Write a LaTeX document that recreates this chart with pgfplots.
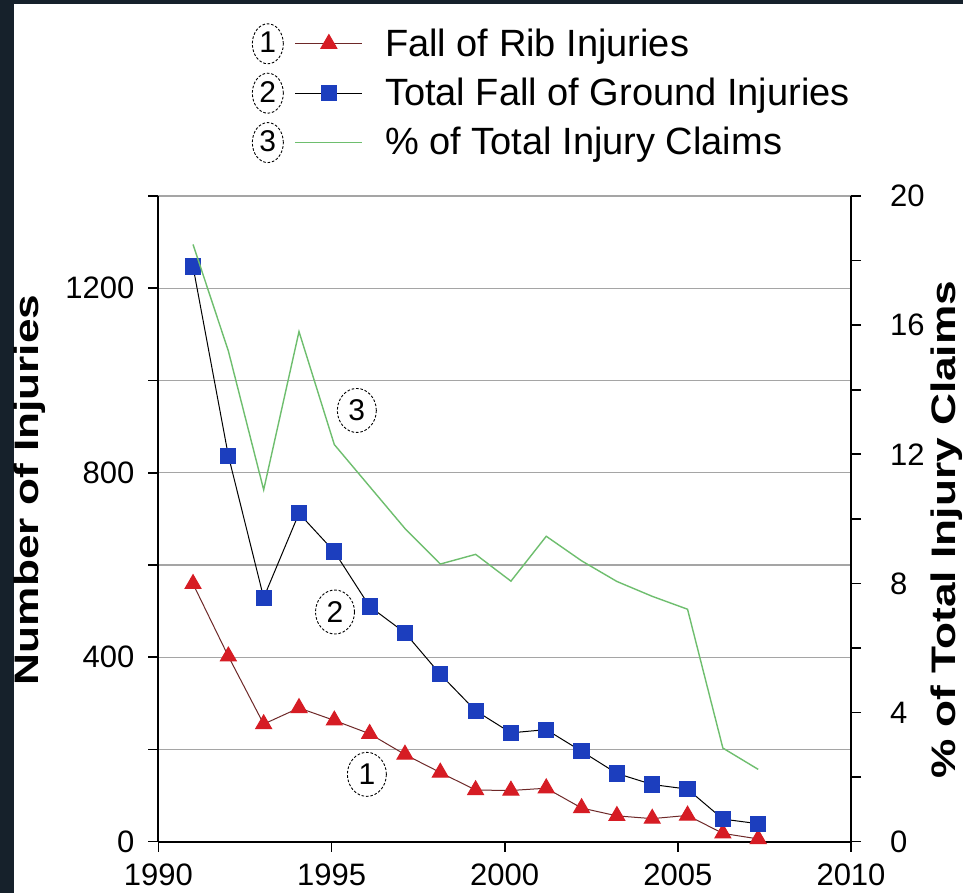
\documentclass[border=0pt]{standalone}
\usepackage{fontspec}
\setmainfont{Liberation Sans}
\usepackage{graphicx}
\usepackage{pgfplots}
\pgfplotsset{compat=1.18}
\usetikzlibrary{shapes.geometric}

\definecolor{bgdark}{HTML}{16212B}
\definecolor{ribred}{RGB}{214,28,36}
\definecolor{riblinered}{RGB}{110,40,40}
\definecolor{fogblue}{RGB}{28,62,190}
\definecolor{pctgreen}{RGB}{110,190,110}
\definecolor{gridgray}{RGB}{165,165,165}

\tikzset{
  numcirc/.style={ellipse, draw=black, text=black, fill=white, line width=0.45pt,
    dash pattern=on 1.3pt off 0.9pt, inner sep=0pt,
    font=\fontsize{15}{15}\selectfont},
}
\pgfplotsset{
  circleg/.style={legend image code/.code={
    \node[numcirc, minimum width=15.5pt, minimum height=20pt] at (-21.75pt,0pt) {#1};
    \draw[mark repeat=2,mark phase=2] plot coordinates {(0pt,0pt) (16.75pt,0pt) (33.5pt,0pt)};
  }},
  every axis/.append style={
    scale only axis, width=346.3pt, height=322.85pt,
    xmin=1990, xmax=2010,
    tick align=outside, major tick length=5pt,
    tick style={black, line width=0.8pt},
    axis line style={black, line width=1pt, -},
    ticklabel style={font=\fontsize{15.5}{18}\selectfont},
    /pgf/number format/.cd, 1000 sep={}, assume math mode=true,
  },
}

\begin{document}
\begin{tikzpicture}
\fill[bgdark] (-79.2pt,-25.65pt) rectangle (402.3pt,420.85pt);
\fill[white] (-72.2pt,-25.65pt) rectangle (402.3pt,418.85pt);

\begin{axis}[
  ymin=0, ymax=1400,
  axis x line*=bottom, axis y line*=left,
  xtick={1990,1995,...,2010},
  ytick={0,200,...,1400},
  yticklabels={0,,400,,800,,1200,},
  xticklabel style={yshift=-2.5pt},
  yticklabel style={xshift=-3.5pt},
  ymajorgrids, major grid style={gridgray, line width=0.7pt},
  ylabel={\scalebox{1.3}[1]{\bfseries Number of Injuries}},
  ylabel style={at={(axis description cs:-0.162,0.545)}, anchor=south,
    inner sep=0pt, font=\fontsize{17}{20}\selectfont},
  legend style={draw=none, fill=none, at={(0.1344,1.268)}, anchor=north west,
    inner sep=0pt, font=\fontsize{19}{22}\selectfont,
    row sep=4.25pt, column sep=11pt, nodes={inner sep=0pt}},
  legend cell align=left,
  clip=false,
]
\addplot[riblinered, line width=0.5pt, mark=triangle*, mark size=4.6pt,
  mark options={solid, draw=ribred, fill=ribred}, circleg=1] coordinates {
  (1991.00,559) (1992.02,402) (1993.04,255) (1994.06,290) (1995.08,263)
  (1996.10,234) (1997.12,189) (1998.14,150) (1999.16,112) (2000.18,111)
  (2001.20,116) (2002.22,73) (2003.24,56) (2004.26,50) (2005.28,57)
  (2006.30,18) (2007.32,6)
};
\addlegendentry{Fall of Rib Injuries}
\addplot[black, line width=0.5pt, mark=square*, mark size=3.8pt,
  mark options={solid, draw=fogblue, fill=fogblue}, circleg=2] coordinates {
  (1991.00,1247) (1992.02,837) (1993.04,529) (1994.06,712) (1995.08,629)
  (1996.10,510) (1997.12,453) (1998.14,363) (1999.16,284) (2000.18,236)
  (2001.20,243) (2002.22,196) (2003.24,148) (2004.26,124) (2005.28,114)
  (2006.30,49) (2007.32,39)
};
\addlegendentry{Total Fall of Ground Injuries}
\addlegendimage{pctgreen, line width=0.7pt, no marks, circleg=3}
\addlegendentry{\% of Total Injury Claims}

\node[numcirc, minimum width=19.5pt, minimum height=22pt] at (axis cs:1995.73,935) {3};
\node[numcirc, minimum width=19.5pt, minimum height=22pt] at (axis cs:1995.10,498) {2};
\node[numcirc, minimum width=19.5pt, minimum height=22pt] at (axis cs:1996.02,146) {1};
\end{axis}

\begin{axis}[
  ymin=0, ymax=20,
  axis y line*=right, axis x line=none,
  ytick={0,2,...,20},
  yticklabels={0,,4,,8,,12,,16,,20},
  yticklabel style={xshift=11pt},
  ylabel={\scalebox{1.3}[1]{\bfseries\% of Total Injury Claims}},
  ylabel style={at={(axis description cs:1.114,0.483)}, anchor=north,
    inner sep=0pt, font=\fontsize{17}{20}\selectfont},
]
\addplot[pctgreen, line width=0.7pt, no marks] coordinates {
  (1991.00,18.5) (1992.02,15.2) (1993.04,10.9) (1994.06,15.8) (1995.08,12.3)
  (1996.10,11.0) (1997.12,9.7) (1998.14,8.6) (1999.16,8.9) (2000.18,8.07)
  (2001.20,9.46) (2002.22,8.7) (2003.24,8.06) (2004.26,7.6) (2005.28,7.2)
  (2006.30,2.9) (2007.32,2.24)
};
\end{axis}

\pgfresetboundingbox
\useasboundingbox (-79.2pt,-25.65pt) rectangle (402.3pt,420.85pt);
\end{tikzpicture}
\end{document}
